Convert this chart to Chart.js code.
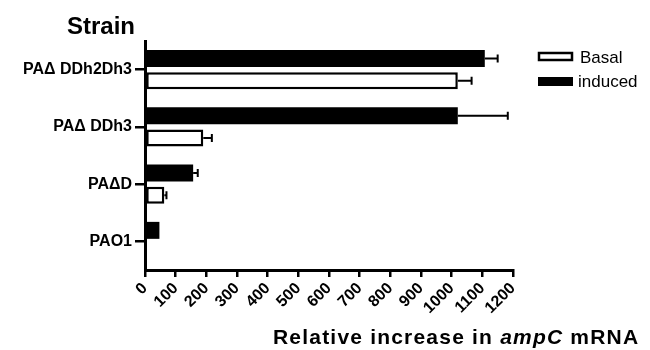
<!DOCTYPE html>
<html>
<head>
<meta charset="utf-8">
<script src="https://cdn.jsdelivr.net/npm/chart.js@4.4.1/dist/chart.umd.min.js"></script>
<style>
  html, body { margin: 0; padding: 0; background: #fff; }
  #wrap { width: 650px; height: 350px; }
</style>
</head>
<body>
<div id="wrap"><canvas id="myChart"></canvas></div>
<script>
// data
const strains = ['PA\u0394 DDh2Dh3', 'PA\u0394 DDh3', 'PA\u0394D', 'PAO1'];
const induced = [1108, 1020, 157, 47];
const inducedErr = [42, 163, 15, 0];
const basal = [1020, 190, 63, 1];
const basalErr = [45, 28, 7, 0];
const xTicks = [0, 100, 200, 300, 400, 500, 600, 700, 800, 900, 1000, 1100, 1200];

const FONT = '"Liberation Sans", Arial, sans-serif';

// one-sided error bars drawn from the bar end
const errorBars = {
    id: 'errorBars',
    afterDatasetsDraw(chart) {
        let ctx = chart.ctx;
        let xs = chart.scales.x;
        chart.data.datasets.forEach((ds, di) => {
            let meta = chart.getDatasetMeta(di);
            meta.data.forEach((bar, i) => {
                let e = ds.errors[i];
                if (!e) return;
                let x1 = xs.getPixelForValue(ds.data[i] + e);
                ctx.save();
                ctx.strokeStyle = '#000';
                ctx.lineWidth = 2;
                ctx.beginPath();
                ctx.moveTo(bar.x, bar.y);
                ctx.lineTo(x1, bar.y);
                ctx.moveTo(x1, bar.y - 4);
                ctx.lineTo(x1, bar.y + 4);
                ctx.stroke();
                ctx.restore();
            });
        });
    }
};

// titles and legend
const extras = {
    id: 'extras',
    afterDraw(chart) {
        let ctx = chart.ctx;
        ctx.save();
        ctx.fillStyle = '#000';
        ctx.textBaseline = 'alphabetic';
        ctx.font = 'bold 24px ' + FONT;
        ctx.fillText('Strain', 67, 34);

        // x axis title with italic ampC
        ctx.letterSpacing = '1.2px';
        let parts = [
            ['bold 21px ' + FONT, 'Relative increase in '],
            ['italic bold 21px ' + FONT, 'ampC'],
            ['bold 21px ' + FONT, ' mRNA']
        ];
        let x = 273;
        parts.forEach(p => {
            ctx.font = p[0];
            ctx.fillText(p[1], x, 344);
            x += ctx.measureText(p[1]).width;
        });
        ctx.letterSpacing = '0px';

        // legend
        ctx.lineWidth = 2.5;
        ctx.strokeStyle = '#000';
        ctx.fillStyle = '#fff';
        ctx.fillRect(539, 53, 33, 7);
        ctx.strokeRect(539, 53, 33, 7);
        ctx.fillStyle = '#000';
        ctx.fillRect(538, 77, 35, 9);
        ctx.font = '17px ' + FONT;
        ctx.fillText('Basal', 580, 63);
        ctx.fillText('induced', 578, 87);
        ctx.restore();
    }
};

let ctx = document.getElementById('myChart').getContext('2d');
let myChart = new Chart(ctx, {
    type: 'bar',
    data: {
        labels: strains,
        datasets: [{
            label: 'induced',
            data: induced,
            errors: inducedErr,
            backgroundColor: '#000',
            borderColor: '#000',
            borderWidth: 0
        }, {
            label: 'Basal',
            data: basal,
            errors: basalErr,
            backgroundColor: '#fff',
            borderColor: '#000',
            borderWidth: 2.5,
            borderSkipped: false
        }]
    },
    options: {
        indexAxis: 'y',
        responsive: true,
        maintainAspectRatio: false,
        animation: false,
        categoryPercentage: 0.77,
        barPercentage: 0.77,
        layout: {
            padding: { top: 41, right: 137, bottom: 0, left: 0 }
        },
        plugins: {
            legend: { display: false },
            tooltip: { enabled: false }
        },
        scales: {
            x: {
                type: 'linear',
                min: 0,
                max: 1200,
                afterBuildTicks: s => { s.ticks = xTicks.map(v => ({ value: v })); },
                afterFit: s => { s.height = 80; },
                border: { display: true, color: '#000', width: 3 },
                grid: {
                    drawOnChartArea: false,
                    drawTicks: true,
                    tickLength: 7,
                    color: '#000',
                    lineWidth: 2.5
                },
                ticks: {
                    color: '#000',
                    font: { family: FONT, size: 16, weight: 'bold' },
                    minRotation: 45,
                    maxRotation: 45,
                    padding: 2,
                    autoSkip: false,
                    callback: v => String(v)
                }
            },
            y: {
                afterFit: s => { s.width = 145; },
                border: { display: true, color: '#000', width: 3 },
                grid: {
                    offset: false,
                    drawOnChartArea: false,
                    drawTicks: true,
                    tickLength: 10,
                    color: '#000',
                    lineWidth: 2.5
                },
                ticks: {
                    color: '#000',
                    font: { family: FONT, size: 16, weight: 'bold' },
                    padding: 3
                }
            }
        }
    },
    plugins: [errorBars, extras]
});
</script>
</body>
</html>
